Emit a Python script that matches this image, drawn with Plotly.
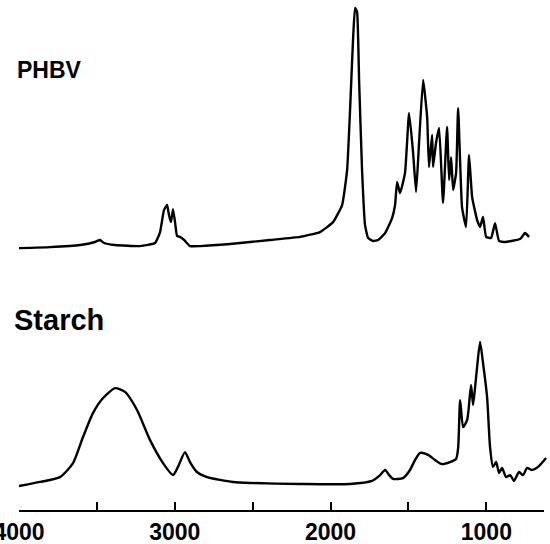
import plotly.graph_objects as go

# PHBV spectrum (wavenumber cm-1, absorbance a.u.)
phbv_wn = [4000, 3801, 3608, 3512, 3480, 3454, 3383, 3223, 3126, 3094, 3069, 3049, 3037, 3024,
           3011, 2998, 2985, 2966, 2940, 2902, 2837, 2645, 2388, 2195, 2067, 1983, 1925, 1893,
           1874, 1855, 1842, 1829, 1816, 1797, 1778, 1758, 1726, 1694, 1649, 1604, 1585, 1572,
           1553, 1521, 1495, 1469, 1450, 1431, 1405, 1379, 1367, 1347, 1341, 1322, 1302, 1277,
           1251, 1238, 1225, 1212, 1193, 1180, 1155, 1129, 1110, 1090, 1058, 1039, 1020, 1000,
           968, 943, 917, 878, 782, 750, 724]
phbv_abs = [0.027, 0.031, 0.039, 0.051, 0.059, 0.047, 0.039, 0.035, 0.047, 0.090, 0.176, 0.196,
            0.157, 0.129, 0.180, 0.129, 0.075, 0.071, 0.059, 0.035, 0.035, 0.043, 0.059, 0.071,
            0.090, 0.129, 0.196, 0.333, 0.569, 0.843, 0.969, 0.953, 0.686, 0.333, 0.118, 0.067,
            0.055, 0.059, 0.086, 0.145, 0.196, 0.286, 0.243, 0.322, 0.557, 0.400, 0.247, 0.439,
            0.686, 0.541, 0.345, 0.471, 0.345, 0.439, 0.498, 0.204, 0.502, 0.294, 0.384, 0.255,
            0.322, 0.576, 0.188, 0.110, 0.392, 0.227, 0.137, 0.110, 0.149, 0.071, 0.067, 0.125,
            0.055, 0.051, 0.063, 0.086, 0.071]

# Starch spectrum (wavenumber cm-1, absorbance a.u.)
starch_wn = [4000, 3865, 3737, 3653, 3589, 3525, 3460, 3383, 3319, 3242, 3159, 3075, 3011, 2979,
             2934, 2902, 2857, 2792, 2625, 2516, 2195, 1874, 1733, 1681, 1649, 1623, 1598, 1534,
             1489, 1457, 1424, 1373, 1328, 1283, 1232, 1193, 1180, 1167, 1148, 1122, 1097, 1084,
             1071, 1058, 1039, 1020, 994, 975, 956, 936, 917, 898, 872, 846, 821, 789, 763, 737,
             705, 667, 615]
starch_abs = [0.094, 0.110, 0.129, 0.184, 0.286, 0.380, 0.439, 0.478, 0.463, 0.392, 0.275, 0.184,
              0.137, 0.169, 0.227, 0.188, 0.149, 0.129, 0.110, 0.106, 0.102, 0.102, 0.114, 0.137,
              0.157, 0.137, 0.122, 0.125, 0.157, 0.196, 0.224, 0.216, 0.196, 0.180, 0.188, 0.200,
              0.243, 0.431, 0.325, 0.353, 0.490, 0.412, 0.482, 0.561, 0.659, 0.576, 0.443, 0.247,
              0.169, 0.188, 0.145, 0.165, 0.129, 0.137, 0.114, 0.149, 0.137, 0.165, 0.157, 0.169,
              0.204]

tick_vals = [4000, 3500, 3000, 2500, 2000, 1500, 1000, 634]
tick_text = ["4000", "", "3000", "", "2000", "", "1000", ""]

FONT = "Liberation Sans, Arial, sans-serif"

fig = go.Figure()
fig.add_trace(go.Scatter(x=starch_wn, y=starch_abs, mode="lines", xaxis="x", yaxis="y",
                         line=dict(color="black", width=2.4, shape="spline", smoothing=0.6),
                         showlegend=False, hoverinfo="skip"))
fig.add_trace(go.Scatter(x=phbv_wn, y=phbv_abs, mode="lines", xaxis="x", yaxis="y2",
                         line=dict(color="black", width=2.4, shape="spline", smoothing=0.4),
                         showlegend=False, hoverinfo="skip"))
# empty trace so that the visible wavenumber axis is drawn
fig.add_trace(go.Scatter(x=[], y=[], mode="lines", xaxis="x2", yaxis="y",
                         showlegend=False, hoverinfo="skip"))

fig.update_layout(
    width=550, height=544,
    margin=dict(l=0, r=0, t=0, b=34, autoexpand=False),
    paper_bgcolor="white", plot_bgcolor="rgba(0,0,0,0)",
    xaxis=dict(domain=[0, 1], range=[4122, 590], visible=False, anchor="y", automargin=False),
    xaxis2=dict(domain=[19 / 550, 544 / 550], range=[4000, 630], anchor="y",
                showline=True, linecolor="black", linewidth=2,
                ticks="inside", ticklen=8, tickwidth=2, tickcolor="black",
                tickvals=tick_vals, ticktext=tick_text, showgrid=False, zeroline=False,
                ticklabelstandoff=0, ticklabeloverflow="allow", automargin=False,
                tickfont=dict(family=FONT, size=23, color="black", weight="bold")),
    yaxis=dict(domain=[0, 0.5], range=[0, 1], visible=False, anchor="x", automargin=False),
    yaxis2=dict(domain=[0.5, 1], range=[0, 1], visible=False, anchor="x", automargin=False),
    annotations=[
        dict(text="PHBV", xref="paper", yref="paper", x=15 / 550, y=(510 - 70) / 510,
             xanchor="left", yanchor="middle", showarrow=False,
             font=dict(family=FONT, size=23, color="black", weight="bold")),
        dict(text="Starch", xref="paper", yref="paper", x=12 / 550, y=(510 - 320) / 510,
             xanchor="left", yanchor="middle", showarrow=False,
             font=dict(family=FONT, size=29, color="black", weight="bold")),
    ],
)

fig.write_html("out.html")
